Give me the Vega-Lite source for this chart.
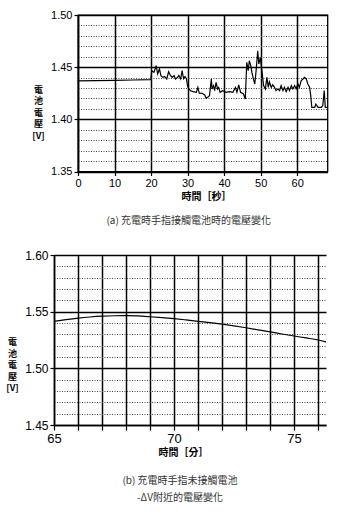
{
  "$schema": "https://vega.github.io/schema/vega-lite/v6.json",
  "background": "white",
  "padding": {"left": 4, "top": 8, "right": 0, "bottom": 0},
  "spacing": 22,
  "config": {
    "view": {"stroke": null},
    "axis": {
      "labelFont": "Liberation Sans",
      "labelColor": "black",
      "labelFlush": false,
      "labelOverlap": false,
      "tickColor": "black",
      "tickWidth": 1.2,
      "domainColor": "black",
      "domainWidth": 1.5,
      "gridColor": "black",
      "gridOpacity": 1,
      "titleFont": "Noto Sans CJK TC",
      "titleFontWeight": "bold",
      "titleColor": "black"
    },
    "title": {
      "font": "Noto Sans CJK TC",
      "fontWeight": "normal",
      "fontSize": 10,
      "color": "#333"
    }
  },
  "vconcat": [
    {
      "spacing": 0,
      "hconcat": [
        {
          "width": 27,
          "height": 1,
          "data": {"values": []},
          "mark": {"type": "point"},
          "encoding": {}
        },
        {
          "width": 249.5,
          "height": 156.5,
          "view": {"stroke": "black", "strokeWidth": 1.3},
          "title": {
            "text": "(a) 充電時手指接觸電池時的電壓變化",
            "orient": "bottom",
            "anchor": "middle",
            "dx": -14,
            "offset": 14
          },
          "data": {
            "values": [
              {"t": 0, "v": 1.4368}, {"t": 5, "v": 1.4371}, {"t": 10, "v": 1.4374}, {"t": 15, "v": 1.4377},
              {"t": 19.9, "v": 1.438}, {"t": 20.2, "v": 1.4466}, {"t": 20.8, "v": 1.445}, {"t": 21.4, "v": 1.4514},
              {"t": 21.8, "v": 1.4435}, {"t": 22.3, "v": 1.4483}, {"t": 22.7, "v": 1.4419}, {"t": 23.2, "v": 1.4402},
              {"t": 23.7, "v": 1.441}, {"t": 24.3, "v": 1.4387}, {"t": 24.8, "v": 1.4457}, {"t": 25.3, "v": 1.442},
              {"t": 25.8, "v": 1.4402}, {"t": 26.3, "v": 1.442}, {"t": 26.7, "v": 1.4387}, {"t": 27.2, "v": 1.44},
              {"t": 27.6, "v": 1.442}, {"t": 28.1, "v": 1.4387}, {"t": 28.5, "v": 1.4466}, {"t": 28.9, "v": 1.439},
              {"t": 29.3, "v": 1.441}, {"t": 29.7, "v": 1.4387}, {"t": 30.0, "v": 1.4316}, {"t": 30.4, "v": 1.429},
              {"t": 30.8, "v": 1.4274}, {"t": 31.5, "v": 1.4265}, {"t": 32.4, "v": 1.4259}, {"t": 32.8, "v": 1.4306},
              {"t": 33.2, "v": 1.425}, {"t": 34.0, "v": 1.4249}, {"t": 34.7, "v": 1.4234}, {"t": 35.1, "v": 1.4201},
              {"t": 36.0, "v": 1.4227}, {"t": 36.5, "v": 1.4387}, {"t": 36.7, "v": 1.4291}, {"t": 37.1, "v": 1.4323},
              {"t": 37.4, "v": 1.4275}, {"t": 37.8, "v": 1.4354}, {"t": 38.2, "v": 1.4291}, {"t": 38.5, "v": 1.4307},
              {"t": 38.9, "v": 1.4259}, {"t": 39.6, "v": 1.4275}, {"t": 40.5, "v": 1.4259}, {"t": 41.5, "v": 1.4265},
              {"t": 42.4, "v": 1.4259}, {"t": 43.1, "v": 1.4307}, {"t": 43.5, "v": 1.4259}, {"t": 44.0, "v": 1.433},
              {"t": 44.5, "v": 1.4259}, {"t": 45.3, "v": 1.4243}, {"t": 45.8, "v": 1.4195}, {"t": 46.2, "v": 1.4546},
              {"t": 46.6, "v": 1.4466}, {"t": 46.9, "v": 1.4562}, {"t": 47.3, "v": 1.4515}, {"t": 47.6, "v": 1.445},
              {"t": 48.0, "v": 1.4387}, {"t": 48.4, "v": 1.4339}, {"t": 48.8, "v": 1.4483}, {"t": 49.2, "v": 1.4658},
              {"t": 49.5, "v": 1.453}, {"t": 49.9, "v": 1.4594}, {"t": 50.4, "v": 1.445}, {"t": 50.8, "v": 1.4323},
              {"t": 51.3, "v": 1.4291}, {"t": 51.7, "v": 1.4402}, {"t": 52.1, "v": 1.4307}, {"t": 52.4, "v": 1.436},
              {"t": 52.9, "v": 1.4307}, {"t": 53.3, "v": 1.433}, {"t": 53.8, "v": 1.4307}, {"t": 54.2, "v": 1.4275},
              {"t": 54.7, "v": 1.429}, {"t": 55.2, "v": 1.4275}, {"t": 55.6, "v": 1.4323}, {"t": 56.1, "v": 1.4275},
              {"t": 56.5, "v": 1.4307}, {"t": 57.0, "v": 1.4265}, {"t": 57.5, "v": 1.4307}, {"t": 57.9, "v": 1.4275},
              {"t": 58.4, "v": 1.4323}, {"t": 58.8, "v": 1.4291}, {"t": 59.3, "v": 1.4323}, {"t": 59.7, "v": 1.4291},
              {"t": 60.2, "v": 1.4339}, {"t": 60.6, "v": 1.4307}, {"t": 61.1, "v": 1.4371}, {"t": 61.6, "v": 1.4387},
              {"t": 62.0, "v": 1.4402}, {"t": 62.5, "v": 1.4387}, {"t": 62.9, "v": 1.4339}, {"t": 63.4, "v": 1.4307},
              {"t": 63.7, "v": 1.423}, {"t": 64.0, "v": 1.4115}, {"t": 64.8, "v": 1.4115}, {"t": 65.1, "v": 1.4147},
              {"t": 65.7, "v": 1.4115}, {"t": 66.6, "v": 1.4115}, {"t": 67.0, "v": 1.413}, {"t": 67.4, "v": 1.4275},
              {"t": 67.7, "v": 1.4115}, {"t": 68.3, "v": 1.4115}
            ]
          },
          "mark": {"type": "line", "color": "black", "strokeWidth": 1.2},
          "encoding": {
            "x": {
              "field": "t",
              "type": "quantitative",
              "scale": {"domain": [0, 68.3], "nice": false, "zero": false},
              "axis": {
                "values": [0, 10, 20, 30, 40, 50, 60],
                "grid": true,
                "gridWidth": 1.5,
                "tickSize": 4,
                "labelFontSize": 11,
                "labelPadding": 2,
                "title": "時間［秒］",
                "titleFontSize": 10,
                "titleX": 128,
                "titleY": 25,
                "titleAlign": "center",
                "titleBaseline": "middle"
              }
            },
            "y": {
              "field": "v",
              "type": "quantitative",
              "scale": {"domain": [1.35, 1.5], "nice": false, "zero": false},
              "axis": {
                "values": [1.35, 1.36, 1.37, 1.38, 1.39, 1.4, 1.41, 1.42, 1.43, 1.44, 1.45, 1.46, 1.47, 1.48, 1.49, 1.5],
                "labelExpr": "round(datum.value*100) % 5 == 0 ? format(datum.value, '.2f') : ''",
                "grid": true,
                "gridColor": {"condition": {"test": "round(datum.value*100) % 5 == 0", "value": "black"}, "value": "#444"},
                "gridWidth": {"condition": {"test": "round(datum.value*100) % 5 == 0", "value": 1.5}, "value": 1},
                "gridDash": {"condition": {"test": "round(datum.value*100) % 5 == 0", "value": [1, 0]}, "value": [1, 1.5]},
                "tickOpacity": {"condition": {"test": "round(datum.value*100) % 5 == 0", "value": 1}, "value": 0},
                "tickSize": 4,
                "labelFontSize": 11,
                "labelPadding": 2,
                "title": ["電", "池", "電", "壓", "[V]"],
                "titleAngle": 0,
                "titleX": -40,
                "titleY": 74.4,
                "titleAlign": "center",
                "titleBaseline": "middle",
                "titleFontSize": 9,
                "titleLineHeight": 11.5
              }
            }
          }
        }
      ]
    },
    {
      "spacing": 0,
      "hconcat": [
        {
          "width": 1,
          "height": 1,
          "data": {"values": []},
          "mark": {"type": "point"},
          "encoding": {}
        },
        {
          "width": 272,
          "height": 170,
          "title": {
            "text": ["(b) 充電時手指未接觸電池", "-ΔV附近的電壓變化"],
            "orient": "bottom",
            "anchor": "middle",
            "dx": -10,
            "offset": 18,
            "lineHeight": 17
          },
          "data": {
            "values": [
              {"t": 65, "v": 1.5415}, {"t": 65.5, "v": 1.543}, {"t": 66, "v": 1.5443}, {"t": 66.5, "v": 1.5453},
              {"t": 67, "v": 1.546}, {"t": 67.5, "v": 1.5464}, {"t": 68, "v": 1.5465}, {"t": 68.5, "v": 1.5462},
              {"t": 69, "v": 1.5455}, {"t": 69.5, "v": 1.5447}, {"t": 70, "v": 1.5438}, {"t": 70.5, "v": 1.5427},
              {"t": 71, "v": 1.5415}, {"t": 71.5, "v": 1.5403}, {"t": 72, "v": 1.539}, {"t": 72.5, "v": 1.5375},
              {"t": 73, "v": 1.5358}, {"t": 73.5, "v": 1.534}, {"t": 74, "v": 1.5322}, {"t": 74.5, "v": 1.5303},
              {"t": 75, "v": 1.5285}, {"t": 75.5, "v": 1.5268}, {"t": 76, "v": 1.525}, {"t": 76.33, "v": 1.5233}
            ]
          },
          "mark": {"type": "line", "color": "black", "strokeWidth": 1.2, "interpolate": "monotone"},
          "encoding": {
            "x": {
              "field": "t",
              "type": "quantitative",
              "scale": {"domain": [65, 76.33], "nice": false, "zero": false},
              "axis": {
                "values": [65, 66, 67, 68, 69, 70, 71, 72, 73, 74, 75, 76],
                "labelExpr": "datum.value % 5 == 0 ? datum.value : ''",
                "grid": true,
                "gridWidth": 1.5,
                "tickSize": 5,
                "labelFontSize": 13,
                "labelPadding": 2,
                "title": "時間［分］",
                "titleFontSize": 10,
                "titleX": 129,
                "titleY": 27.5,
                "titleAlign": "center",
                "titleBaseline": "middle"
              }
            },
            "y": {
              "field": "v",
              "type": "quantitative",
              "scale": {"domain": [1.45, 1.6], "nice": false, "zero": false},
              "axis": {
                "values": [1.45, 1.46, 1.47, 1.48, 1.49, 1.5, 1.51, 1.52, 1.53, 1.54, 1.55, 1.56, 1.57, 1.58, 1.59, 1.6],
                "labelExpr": "round(datum.value*100) % 5 == 0 ? format(datum.value, '.2f') : ''",
                "grid": true,
                "gridColor": {"condition": {"test": "round(datum.value*100) % 5 == 0", "value": "black"}, "value": "#444"},
                "gridWidth": {"condition": {"test": "round(datum.value*100) % 5 == 0", "value": 1.5}, "value": 1},
                "gridDash": {"condition": {"test": "round(datum.value*100) % 5 == 0", "value": [1, 0]}, "value": [1, 1.5]},
                "tickOpacity": {"condition": {"test": "round(datum.value*100) % 5 == 0", "value": 1}, "value": 0},
                "tickSize": 4,
                "labelFontSize": 12,
                "labelPadding": 2,
                "title": ["電", "池", "電", "壓", "[V]"],
                "titleAngle": 0,
                "titleX": -42,
                "titleY": 86.5,
                "titleAlign": "center",
                "titleBaseline": "middle",
                "titleFontSize": 9,
                "titleLineHeight": 11.5
              }
            }
          }
        }
      ]
    }
  ]
}
